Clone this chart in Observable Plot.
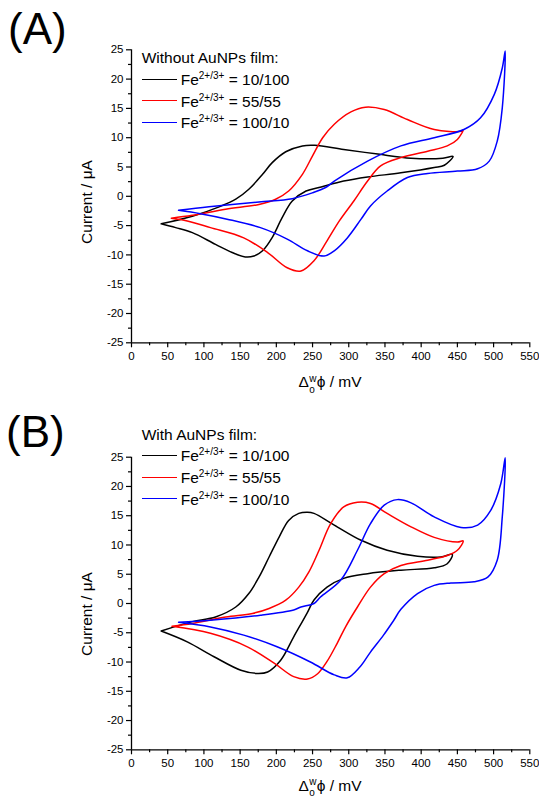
<!DOCTYPE html>
<html>
<head>
<meta charset="utf-8">
<script src="https://cdn.jsdelivr.net/npm/d3@7"></script>
<script src="https://cdn.jsdelivr.net/npm/@observablehq/plot@0.6"></script>
<style>
  html, body { margin: 0; padding: 0; background: #fff; overflow: hidden; }
  #root { position: relative; width: 539px; height: 798px; font-family: "Liberation Sans", Arial, sans-serif; color: #000; }
  .abs { position: absolute; white-space: nowrap; }
  .panel { position: absolute; left: 0; }
  .big { font-size: 44px; line-height: 50px; }
  .leg { font-size: 15.5px; line-height: 18px; }
  .leg sup { font-size: 10px; vertical-align: 6px; line-height: 0; }
  .sample { position: absolute; width: 35px; height: 0; border-top: 1.6px solid; }
  .xl { font-size: 15.5px; line-height: 18px; width: 120px; text-align: center; }
  .yl { font-size: 15.5px; line-height: 18px; width: 120px; text-align: center; transform: rotate(-90deg); transform-origin: 60px 9px; }
  .st { display: inline-block; position: relative; width: 8px; height: 18px; vertical-align: top; }
  .st span { position: absolute; left: 0.5px; font-size: 10px; line-height: 10px; }
</style>
</head>
<body>
<div id="root">
  <div id="pA" class="panel" style="top:0"></div>
  <div id="pB" class="panel" style="top:400px"></div>
</div>
<script>
// ---------- data ----------
const seriesNames = ["10/100", "55/55", "100/10"];
const seriesColors = ["#000000", "#ff0000", "#0000ff"];
const xTicks = [0, 50, 100, 150, 200, 250, 300, 350, 400, 450, 500, 550];
const xMinorTicks = [25, 75, 125, 175, 225, 275, 325, 375, 425, 475, 525];
const yTicks = [-25, -20, -15, -10, -5, 0, 5, 10, 15, 20, 25];
const yMinorTicks = [-22.5, -17.5, -12.5, -7.5, -2.5, 2.5, 7.5, 12.5, 17.5, 22.5];

// Panel A (without AuNPs film): potential (mV) and current (µA)
const aBlackE = [41, 84, 121, 144, 162, 181, 194, 213, 236, 253, 293, 340, 386, 430, 444, 432, 418, 372, 326, 293, 262, 241, 222, 208, 194, 181, 169, 157, 139, 116, 84, 61, 41];
const aBlackI = [-4.7, -3.4, -1.8, -0.5, 1.2, 3.75, 5.7, 7.6, 8.6, 8.7, 8.0, 7.2, 6.5, 6.5, 6.8, 5.3, 4.9, 4.0, 3.3, 2.6, 1.6, 0.9, -0.8, -3.65, -7.1, -9.3, -10.2, -10.35, -9.6, -8.2, -6.2, -5.35, -4.7];
const aRedE = [55, 84, 130, 176, 199, 217, 236, 250, 264, 280, 303, 323, 349, 381, 418, 455, 458, 450, 436, 409, 372, 344, 326, 307, 287, 270, 252, 234, 215, 188, 155, 109, 77, 55];
const aRedI = [-3.75, -3.25, -2.2, -1.4, -0.5, 0.9, 3.75, 6.9, 10.0, 12.3, 14.4, 15.2, 14.8, 13.1, 11.4, 11.1, 11.3, 9.7, 8.6, 7.7, 6.6, 5.2, 2.6, -0.8, -4.2, -7.6, -11.0, -12.75, -12.2, -9.6, -7.1, -5.35, -4.2, -3.75];
const aBlueE = [65, 107, 176, 222, 250, 268, 280, 326, 372, 418, 459, 482, 501, 512, 516, 512, 505, 494, 478, 450, 409, 381, 353, 330, 317, 298, 280, 266, 243, 215, 178, 132, 95, 65];
const aBlueI = [-2.4, -1.8, -0.97, -0.4, 0.6, 1.5, 2.6, 6.0, 8.6, 10.0, 11.4, 13.4, 17.4, 21.9, 24.8, 15.1, 9.4, 6.0, 4.7, 4.3, 3.9, 3.2, 0.9, -1.65, -3.9, -7.1, -9.3, -10.2, -9.3, -7.3, -5.35, -3.9, -2.97, -2.4];

// Panel B (with AuNPs film)
const bBlackE = [41, 84, 116, 144, 162, 176, 190, 204, 217, 231, 243, 252, 280, 317, 353, 395, 427, 443, 436, 418, 372, 326, 293, 270, 252, 243, 224, 206, 188, 174, 151, 114, 77, 41];
const bBlackI = [-4.7, -3.1, -2.3, -0.6, 1.7, 4.5, 7.95, 11.4, 14.2, 15.4, 15.6, 15.4, 13.4, 10.8, 9.1, 8.07, 7.95, 8.4, 6.8, 6.1, 5.7, 5.1, 4.3, 2.8, 0.6, -1.5, -5.7, -9.7, -11.7, -11.95, -11.4, -9.1, -6.55, -4.7];
const bRedE = [56, 84, 130, 167, 190, 213, 231, 245, 259, 275, 293, 312, 330, 353, 386, 418, 450, 458, 450, 436, 409, 372, 349, 330, 312, 296, 284, 270, 257, 243, 224, 197, 160, 109, 56];
const bRedI = [-3.9, -3.4, -2.3, -1.7, -0.85, 0.56, 2.8, 5.4, 9.1, 13.65, 16.5, 17.3, 17.1, 15.4, 13.1, 11.3, 10.5, 10.7, 9.1, 8.2, 7.4, 6.5, 5.1, 2.8, -0.6, -3.9, -6.8, -9.9, -12.0, -12.9, -12.5, -10.2, -7.4, -5.1, -3.9];
const bBlueE = [65, 109, 178, 224, 234, 252, 261, 289, 312, 330, 349, 367, 386, 418, 455, 478, 496, 510, 516, 512, 505, 492, 473, 441, 418, 395, 372, 362, 348, 330, 315, 298, 280, 247, 201, 155, 109, 65];
const bBlueI = [-3.2, -2.85, -2.0, -1.1, -0.6, 0, 1.1, 4.0, 9.1, 13.65, 16.8, 17.75, 17.2, 14.8, 13.0, 13.4, 15.9, 20.5, 24.9, 14.8, 7.4, 4.5, 3.7, 3.5, 3.1, 1.7, -1.0, -2.9, -5.4, -8.3, -10.9, -12.7, -12.2, -10.0, -7.4, -5.4, -4.0, -3.2];

// ---------- build ----------
function rows(pairs) {
  const out = [];
  pairs.forEach(([E, I], k) => E.forEach((e, i) => out.push({s: seriesNames[k], E: e, I: I[i]})));
  return out;
}
const rowsA = rows([[aBlackE, aBlackI], [aRedE, aRedI], [aBlueE, aBlueI]]);
const rowsB = rows([[bBlackE, bBlackI], [bRedE, bRedI], [bBlueE, bBlueI]]);

const FONT = "'Liberation Sans', Arial, sans-serif";

function panel(data, marginTop, marginBottom) {
  return Plot.plot({
    width: 539,
    height: 398,
    marginTop,
    marginBottom,
    marginLeft: 131,
    marginRight: 9.7,
    style: {fontFamily: FONT, fontSize: "11.5px", color: "#000", background: "transparent", overflow: "visible"},
    x: {domain: [0, 550], label: null},
    y: {domain: [-25, 25], label: null},
    color: {domain: seriesNames, range: seriesColors},
    marks: [
      Plot.axisY({ticks: yTicks, tickSize: 5, tickPadding: 3, tickFormat: d => String(d), label: null, strokeWidth: 1.2}),
      Plot.axisY({ticks: yMinorTicks, tickSize: 3, tickFormat: () => "", label: null, strokeWidth: 1.2}),
      Plot.axisX({ticks: xTicks, tickSize: 5, tickPadding: 4, tickFormat: d => String(d), label: null, strokeWidth: 1.2}),
      Plot.axisX({ticks: xMinorTicks, tickSize: 3, tickFormat: () => "", label: null, strokeWidth: 1.2}),
      Plot.ruleX([0], {strokeWidth: 1.3}),
      Plot.ruleY([-25], {strokeWidth: 1.3}),
      Plot.line(data, {x: "E", y: "I", z: "s", stroke: "s", curve: "catmull-rom", strokeWidth: 1.5})
    ]
  });
}

document.getElementById("pA").appendChild(panel(rowsA, 49.3, 55.7));
document.getElementById("pB").appendChild(panel(rowsB, 56.7, 48.7));

// ---------- HTML text overlays ----------
const root = document.getElementById("root");
function addDiv(cls, left, top, html) {
  const d = document.createElement("div");
  d.className = "abs " + cls;
  d.style.left = left + "px";
  d.style.top = top + "px";
  d.innerHTML = html;
  root.appendChild(d);
  return d;
}

function legend(title, titleCenter, rowCenters) {
  addDiv("leg", 141.7, titleCenter - 8.5, title);
  rowCenters.forEach((c, k) => {
    const s = document.createElement("div");
    s.className = "sample";
    s.style.left = "141.7px";
    s.style.top = (c - 0.8) + "px";
    s.style.borderTopColor = seriesColors[k];
    root.appendChild(s);
    addDiv("leg", 180.7, c - 8.5, "Fe<sup>2+/3+</sup> = " + seriesNames[k]);
  });
}

addDiv("big", 8, 4, "(A)");
addDiv("big", 6, 407, "(B)");
legend("Without AuNPs film:", 57, [79.3, 101, 122.7]);
legend("With AuNPs film:", 434, [455.7, 477.3, 499]);

// y-axis titles (rotated), centred on (86.7, 202) and (86.7, 614)
addDiv("yl", 86.7 - 60, 202 - 9, "Current / \u03BCA");
addDiv("yl", 86.7 - 60, 614 - 9, "Current / \u03BCA");

const xLabelTop = '\u0394<span class="st"><span style="top:1px">w</span><span style="top:12px">o</span></span>\u03D5 / mV';
const xLabelBottom = '\u0394<span class="st"><span style="top:0px">w</span><span style="top:11px">o</span></span>\u03D5 / mV';
addDiv("xl", 270, 372.6, xLabelTop);
addDiv("xl", 270, 776.5, xLabelBottom);
</script>
</body>
</html>
